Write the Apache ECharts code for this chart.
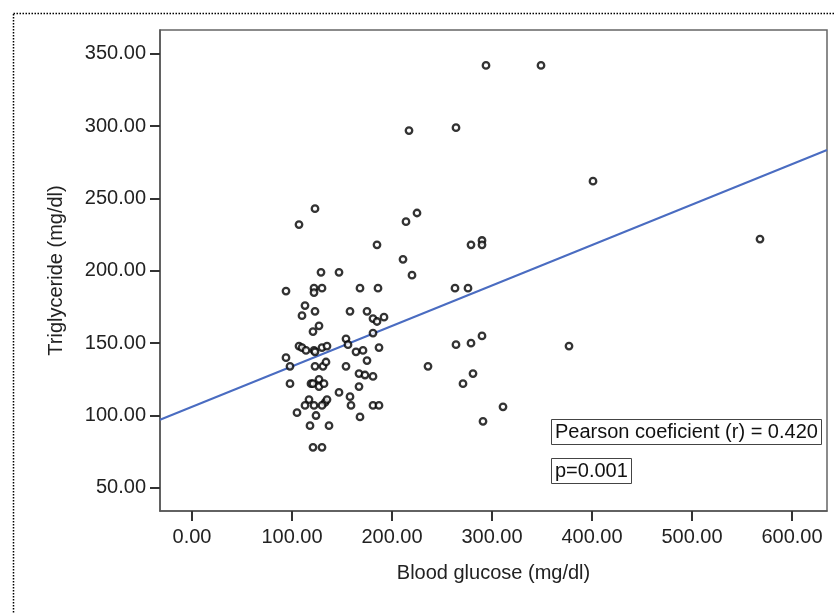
<!DOCTYPE html>
<html>
<head>
<meta charset="utf-8">
<script src="https://cdn.jsdelivr.net/npm/echarts@6/dist/echarts.min.js"></script>
<style>
	html, body { margin: 0; padding: 0; background: #fff; }
	#chart { width: 834px; height: 613px; }
</style>
</head>
<body>
<div id="chart"></div>
<script>
// blood glucose (x) and triglyceride (y)
let glucose = [
	94, 107, 123, 129, 147, 122, 122, 130, 168, 186,
	113, 110, 123, 158, 175, 181, 185, 192, 127, 121,
	107, 110, 114, 122, 123, 130, 135, 154, 156, 164,
	171, 181, 187, 94, 98, 123, 131, 134, 154, 175,
	167, 173, 181, 98, 119, 121, 127, 127, 132, 167,
	147, 158, 117, 113, 122, 133, 135, 130, 159, 181,
	187, 105, 124, 168, 118, 137, 121, 130, 225, 214,
	185, 211, 220, 279, 290, 290, 263, 276, 264, 279,
	290, 377, 236, 281, 271, 311, 291, 294, 349, 217,
	264, 401, 568
];
let triglyceride = [
	186, 232, 243, 199, 199, 188, 185, 188, 188, 188,
	176, 169, 172, 172, 172, 167, 165, 168, 162, 158,
	148, 147, 145, 145, 144, 147, 148, 153, 149, 144,
	145, 157, 147, 140, 134, 134, 134, 137, 134, 138,
	129, 128, 127, 122, 122, 122, 125, 120, 122, 120,
	116, 113, 111, 107, 107, 109, 111, 107, 107, 107,
	107, 102, 100, 99, 93, 93, 78, 78, 240, 234,
	218, 208, 197, 218, 221, 218, 188, 188, 149, 150,
	155, 148, 134, 129, 122, 106, 96, 342, 342, 297,
	299, 262, 222
];
let xTicks = [0, 100, 200, 300, 400, 500, 600];
let yTicks = [50, 100, 150, 200, 250, 300, 350];
// fit line as drawn in the picture
let fitIntercept = 106.0;
let fitSlope = 0.2796;
let pearsonText = "Pearson coeficient (r) = 0.420";
let pText = "p=0.001";

let xMin = -32, xMax = 635;
let yMin = 34, yMax = 366.5;

let points = glucose.map(function(g, i) {
	return [g, triglyceride[i]];
});
let fitLine = [
	[xMin, fitIntercept + fitSlope * xMin],
	[xMax, fitIntercept + fitSlope * xMax]
];

let chart = echarts.init(document.getElementById("chart"));
let font = "Liberation Sans, Arial, sans-serif";

let boxText = { fontFamily: font, fontSize: 20, fontWeight: "normal", color: "#111" };

let option = {
	animation: false,
	backgroundColor: "#fff",
	grid: {
		left: 160,
		top: 30,
		right: 7,
		bottom: 102,
		show: true,
		borderColor: "#666",
		borderWidth: 1.5
	},
	title: [
		{
			text: pearsonText,
			left: 551,
			top: 419,
			padding: [3, 4, 3, 4],
			borderColor: "#444",
			borderWidth: 1,
			backgroundColor: "#fff",
			textStyle: boxText
		},
		{
			text: pText,
			left: 551,
			top: 458,
			padding: [3, 4, 3, 4],
			borderColor: "#444",
			borderWidth: 1,
			backgroundColor: "#fff",
			textStyle: boxText
		}
	],
	xAxis: {
		type: "value",
		min: xMin,
		max: xMax,
		name: "Blood glucose (mg/dl)",
		nameLocation: "middle",
		nameGap: 52,
		nameTextStyle: { fontFamily: font, fontSize: 20, color: "#222" },
		axisLine: { onZero: false, lineStyle: { color: "#555", width: 1.5 } },
		axisTick: { show: true, length: 10, customValues: xTicks, lineStyle: { color: "#333", width: 2 } },
		axisLabel: {
			customValues: xTicks,
			margin: 16,
			fontFamily: font,
			fontSize: 20,
			color: "#222",
			formatter: function(v) { return v.toFixed(2); }
		},
		splitLine: { show: false }
	},
	yAxis: {
		type: "value",
		min: yMin,
		max: yMax,
		name: "Triglyceride (mg/dl)",
		nameLocation: "middle",
		nameRotate: 90,
		nameGap: 94,
		nameTextStyle: { fontFamily: font, fontSize: 20, color: "#222" },
		axisLine: { onZero: false, lineStyle: { color: "#555", width: 1.5 } },
		axisTick: { show: true, length: 10, customValues: yTicks, lineStyle: { color: "#333", width: 2 } },
		axisLabel: {
			customValues: yTicks,
			margin: 14,
			fontFamily: font,
			fontSize: 20,
			color: "#222",
			formatter: function(v) { return v.toFixed(2); }
		},
		splitLine: { show: false }
	},
	graphic: [
		{
			type: "rect",
			left: 11,
			top: 11,
			silent: true,
			shape: { width: 900, height: 700 },
			style: { fill: "none", stroke: "#000", lineWidth: 1.5, lineDash: [1.5, 1.5] }
		}
	],
	series: [
		{
			type: "line",
			data: fitLine,
			symbol: "none",
			lineStyle: { color: "#4a6cc1", width: 2 },
			z: 2
		},
		{
			type: "scatter",
			data: points,
			symbol: "circle",
			symbolSize: 6.5,
			itemStyle: { color: "#fff", borderColor: "#000", borderWidth: 2.3 },
			z: 3
		}
	]
};

chart.setOption(option);
</script>
</body>
</html>
